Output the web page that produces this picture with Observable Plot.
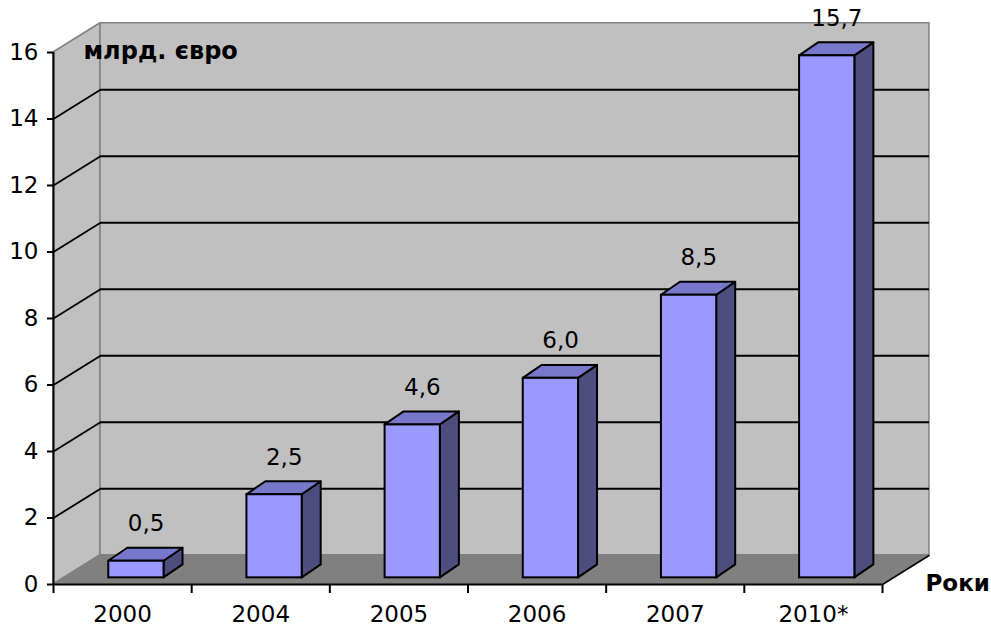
<!DOCTYPE html>
<html>
<head>
<meta charset="utf-8">
<script src="https://cdn.jsdelivr.net/npm/d3@7"></script>
<script src="https://cdn.jsdelivr.net/npm/@observablehq/plot@0.6"></script>
<style>
  html, body { margin: 0; padding: 0; background: #fff; }
</style>
</head>
<body>
<div id="chart"></div>
<script>
// ---- data ----
const years = ["2000", "2004", "2005", "2006", "2007", "2010*"];
const values = [0.5, 2.5, 4.6, 6.0, 8.5, 15.7];
const yTicks = [0, 2, 4, 6, 8, 10, 12, 14, 16];
const yTitle = "млрд. євро";
const xTitle = "Роки";

// ---- 3D projection constants (in scale units) ----
const WDX = 0.34, WDY = 0.88;          // wall depth offset
const BX0 = 0.40, BX1 = 0.80;          // bar front face within band
const BDX = 0.1375, BDY = 0.39;        // bar depth offset
const BASE = 0.2;                      // bar front-plane baseline shift
const N = years.length;

const bars = values.map((v, i) => ({i, v, year: years[i]}));
const sidePts = bars.flatMap(d => [
  {i: d.i, x: d.i + BX1, y1: BASE, y2: d.v + BASE},
  {i: d.i, x: d.i + BX1 + BDX, y1: BASE + BDY, y2: d.v + BASE + BDY}
]);
const topPts = bars.flatMap(d => [
  {i: d.i, y: d.v + BASE, x1: d.i + BX0, x2: d.i + BX1},
  {i: d.i, y: d.v + BASE + BDY, x1: d.i + BX0 + BDX, x2: d.i + BX1 + BDX}
]);
const yMax = yTicks[yTicks.length - 1];
const grid = yTicks.filter(t => t > 0 && t < yMax);
const fmt = v => v.toFixed(1).replace(".", ",");

const chart = Plot.plot({
  width: 991,
  height: 625,
  marginLeft: 53,
  marginRight: 109,
  marginTop: 52,
  marginBottom: 41,
  x: {type: "linear", domain: [0, N], axis: null},
  y: {domain: [0, yMax], axis: null},
  style: {fontFamily: "DejaVu Sans", fontSize: "23px", background: "#fff", overflow: "visible", color: "#000"},
  marks: [
    // left wall
    Plot.areaY([{x: 0, y1: 0, y2: yMax}, {x: WDX, y1: WDY, y2: yMax + WDY}],
      {x: "x", y1: "y1", y2: "y2", fill: "#c0c0c0", stroke: "#808080", strokeWidth: 1.5}),
    // back wall
    Plot.rect([{x1: WDX, x2: N + WDX, y1: WDY, y2: yMax + WDY}],
      {x1: "x1", x2: "x2", y1: "y1", y2: "y2", fill: "#c0c0c0", stroke: "#808080", strokeWidth: 1.5}),
    // floor
    Plot.areaX([{y: 0, x1: 0, x2: N}, {y: WDY, x1: WDX, x2: N + WDX}],
      {y: "y", x1: "x1", x2: "x2", fill: "#808080", stroke: "#808080", strokeWidth: 1}),
    Plot.link([{a: N, b: N + WDX}], {x1: "a", y1: () => 0, x2: "b", y2: () => WDY, stroke: "#000", strokeWidth: 1.5}),
    // gridlines on back wall
    Plot.ruleY(grid, {y: d => d + WDY, x1: () => WDX, x2: () => N + WDX, stroke: "#000", strokeWidth: 1.8}),
    // gridlines on left wall
    Plot.link(grid, {x1: () => 0, y1: d => d, x2: () => WDX, y2: d => d + WDY, stroke: "#000", strokeWidth: 1.8}),
    // axes lines
    Plot.ruleX([0], {y1: () => 0, y2: () => yMax, stroke: "#000", strokeWidth: 2}),
    Plot.ruleY([0], {x1: () => 0, x2: () => N, stroke: "#000", strokeWidth: 2}),
    Plot.axisY({ticks: yTicks, tickSize: 6, tickPadding: 9, tickFormat: d => String(d), strokeWidth: 2, label: null, fontSize: 23}),
    Plot.axisX({ticks: d3.range(N + 1), tickSize: 9, tickFormat: () => "", strokeWidth: 2, label: null}),
    // x category labels
    Plot.text(years, {x: (d, i) => i + 0.5, y: () => 0, dy: 30, text: d => d, fontSize: 23}),
    // bars: side, top, front
    Plot.areaY(sidePts, {x: "x", y1: "y1", y2: "y2", z: "i", fill: "#4d4d80", stroke: "#000", strokeWidth: 2, strokeLinejoin: "round"}),
    Plot.areaX(topPts, {y: "y", x1: "x1", x2: "x2", z: "i", fill: "#7777cc", stroke: "#000", strokeWidth: 2, strokeLinejoin: "round"}),
    Plot.rect(bars, {x1: d => d.i + BX0, x2: d => d.i + BX1, y1: () => BASE, y2: d => d.v + BASE, fill: "#9999ff", stroke: "#000", strokeWidth: 2}),
    // value labels
    Plot.text(bars, {x: d => d.i + 0.67, y: "v", dy: -44, text: d => fmt(d.v), fontSize: 23}),
    // titles
    Plot.text([yTitle], {frameAnchor: "top-left", dx: 30, dy: -11, textAnchor: "start", fontWeight: "bold", fontSize: 24}),
    Plot.text([xTitle], {frameAnchor: "bottom-right", dx: 43, dy: 6, textAnchor: "start", fontWeight: "bold", fontSize: 23})
  ]
});
document.getElementById("chart").append(chart);
</script>
</body>
</html>
